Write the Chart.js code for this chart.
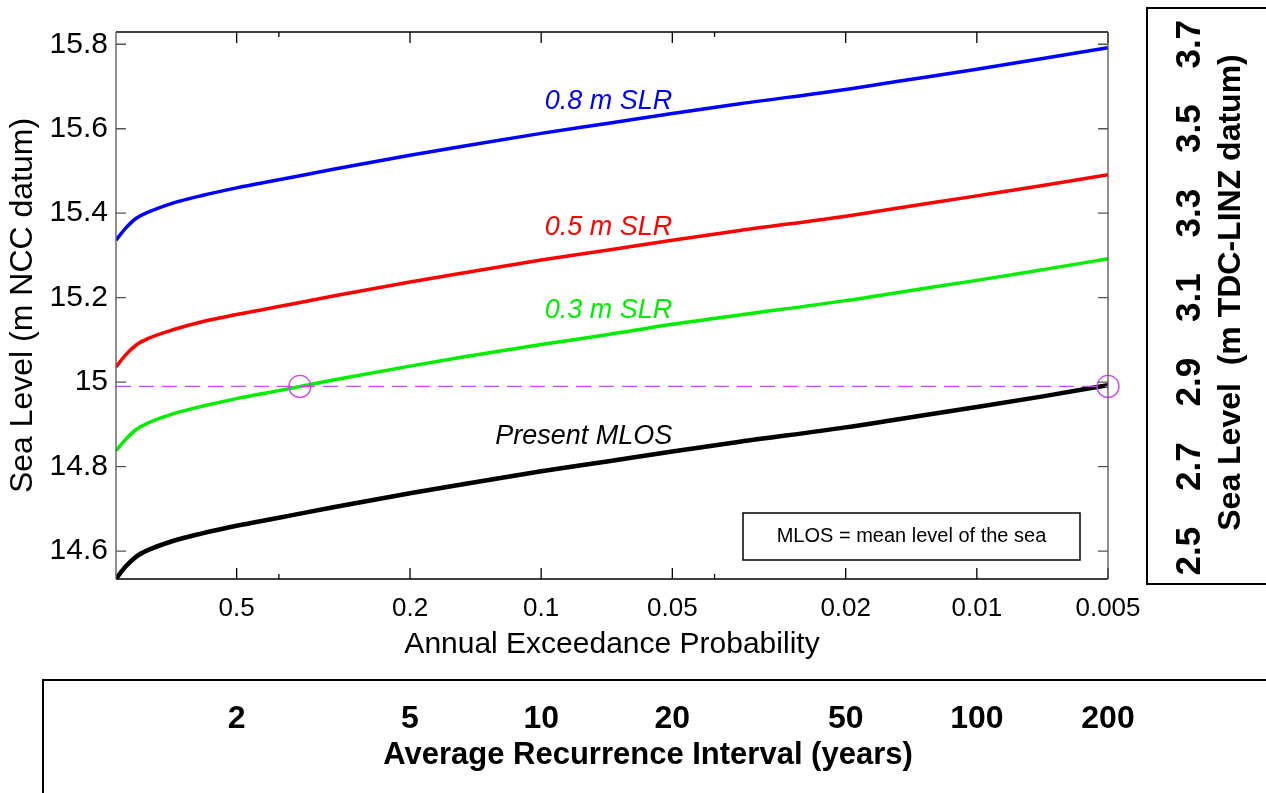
<!DOCTYPE html>
<html>
<head>
<meta charset="utf-8">
<title>Sea level vs annual exceedance probability</title>
<script src="https://cdn.jsdelivr.net/npm/chart.js@4.4.1/dist/chart.umd.min.js"></script>
<style>
  html, body { margin: 0; padding: 0; background: #fff; }
  #wrap { width: 1266px; height: 793px; }
</style>
</head>
<body>
<div id="wrap"><canvas id="chart" width="1266" height="793"></canvas></div>
<script>
// annual exceedance probability (x axis)
const aep = [0.946, 0.9, 0.85, 0.8, 0.7, 0.6, 0.5, 0.4, 0.3, 0.2, 0.15, 0.1, 0.07, 0.05, 0.035, 0.02, 0.015, 0.01, 0.007, 0.005];

// sea level, m NCC datum
const presentMlos = [14.535, 14.563, 14.587, 14.602, 14.624, 14.642, 14.660, 14.679, 14.704, 14.737, 14.759, 14.789, 14.813, 14.836, 14.859, 14.893, 14.913, 14.941, 14.967, 14.993];
const slr03 = [14.838, 14.864, 14.888, 14.903, 14.925, 14.943, 14.961, 14.980, 15.005, 15.038, 15.060, 15.089, 15.113, 15.137, 15.159, 15.193, 15.213, 15.241, 15.267, 15.292];
const slr05 = [15.036, 15.064, 15.088, 15.103, 15.124, 15.143, 15.160, 15.179, 15.204, 15.237, 15.259, 15.289, 15.313, 15.336, 15.359, 15.393, 15.413, 15.441, 15.466, 15.491];
const slr08 = [15.336, 15.364, 15.388, 15.402, 15.424, 15.442, 15.460, 15.479, 15.504, 15.537, 15.559, 15.589, 15.613, 15.636, 15.659, 15.693, 15.713, 15.741, 15.767, 15.792];

// 14.99 m reference level and the two marked crossings
const refLevel = 14.99;
const markAep = [0.358, 0.005];

// tick values and labels
const aepTicks = [0.5, 0.2, 0.1, 0.05, 0.02, 0.01, 0.005];
const aepLabels = ["0.5", "0.2", "0.1", "0.05", "0.02", "0.01", "0.005"];
const aepMinorTicks = [0.4, 0.04];
const ariLabels = ["2", "5", "10", "20", "50", "100", "200"];
const levelTicks = [14.6, 14.8, 15.0, 15.2, 15.4, 15.6, 15.8];
const linzTicks = [2.5, 2.7, 2.9, 3.1, 3.3, 3.5, 3.7];
const datumOffset = 12.1; // NCC -> TDC-LINZ

// curve labels
const curveLabels = ["0.8 m SLR", "0.5 m SLR", "0.3 m SLR", "Present MLOS"];
const curveLabelLevels = [15.647, 15.348, 15.152, 14.853];
const curveColors = ["#0000ff", "#ff0000", "#00ee00", "#000000"];

const FONT = '"Liberation Sans", Arial, Helvetica, sans-serif';
Chart.defaults.font.family = FONT;
Chart.defaults.color = "#000";

const yMin = 14.534;
const yMax = 15.829;
const xMin = 0.005;
const xMax = 0.946;

function series(values) {
  return aep.map((p, i) => ({ x: p, y: values[i] }));
}

const decorations = {
  id: "decorations",
  afterDraw(chart) {
    const { ctx, chartArea: a, scales } = chart;
    const x = scales.x;
    const y = scales.y;

    ctx.save();

    // frame with inward ticks
    ctx.lineWidth = 1.3;
    ctx.strokeStyle = "#000";
    ctx.beginPath();
    ctx.moveTo(a.left, a.top); ctx.lineTo(a.right, a.top);
    ctx.moveTo(a.left, a.bottom); ctx.lineTo(a.right, a.bottom);
    x.ticks.forEach((t) => {
      const px = x.getPixelForValue(t.value);
      ctx.moveTo(px, a.bottom); ctx.lineTo(px, a.bottom - 11);
      ctx.moveTo(px, a.top); ctx.lineTo(px, a.top + 11);
    });
    aepMinorTicks.forEach((v) => {
      const px = x.getPixelForValue(v);
      ctx.moveTo(px, a.bottom); ctx.lineTo(px, a.bottom - 5);
      ctx.moveTo(px, a.top); ctx.lineTo(px, a.top + 5);
    });
    ctx.stroke();

    ctx.strokeStyle = "#555";
    ctx.beginPath();
    ctx.moveTo(a.left, a.top); ctx.lineTo(a.left, a.bottom);
    ctx.moveTo(a.right, a.top); ctx.lineTo(a.right, a.bottom);
    y.ticks.forEach((t) => {
      const py = y.getPixelForValue(t.value);
      ctx.moveTo(a.left, py); ctx.lineTo(a.left + 10, py);
      ctx.moveTo(a.right, py); ctx.lineTo(a.right - 10, py);
    });
    ctx.stroke();

    // curve labels
    ctx.font = "italic 27px " + FONT;
    ctx.textAlign = "right";
    ctx.textBaseline = "alphabetic";
    curveLabels.forEach((txt, i) => {
      ctx.fillStyle = curveColors[i];
      ctx.fillText(txt, x.getPixelForValue(0.05), y.getPixelForValue(curveLabelLevels[i]));
    });

    // note box
    const bw = 337, bh = 47;
    const bx = a.right - 28 - bw;
    const by = a.bottom - 19 - bh;
    ctx.fillStyle = "#fff";
    ctx.fillRect(bx, by, bw, bh);
    ctx.strokeStyle = "#000";
    ctx.lineWidth = 1.5;
    ctx.strokeRect(bx, by, bw, bh);
    ctx.fillStyle = "#000";
    ctx.font = "20px " + FONT;
    ctx.textAlign = "center";
    ctx.textBaseline = "middle";
    ctx.fillText("MLOS = mean level of the sea", bx + bw / 2, by + bh / 2);

    // right-hand datum panel
    ctx.lineWidth = 2;
    ctx.strokeRect(a.right + 39, 8, 300, a.bottom - 3);
    ctx.save();
    ctx.translate(a.right + 123, (a.top + a.bottom) / 2 - 13);
    ctx.rotate(-Math.PI / 2);
    ctx.font = "bold 32px " + FONT;
    ctx.fillText("Sea Level  (m TDC-LINZ datum)", 0, 0);
    ctx.restore();

    // recurrence interval panel
    const x2 = scales.x2;
    ctx.strokeRect(43, x2.top, 1400, 300);
    ctx.font = "bold 31px " + FONT;
    ctx.fillText("Average Recurrence Interval (years)", (a.left + a.right) / 2 + 36, x2.top + 75);

    ctx.restore();
  },
};

new Chart(document.getElementById("chart"), {
  type: "line",
  data: {
    datasets: [
      {
        label: "marks",
        data: markAep.map((p) => ({ x: p, y: refLevel })),
        showLine: false,
        pointStyle: "circle",
        pointRadius: 11,
        pointBorderWidth: 1.3,
        pointBorderColor: "#cc44ff",
        pointBackgroundColor: "rgba(0,0,0,0)",
        clip: false,
      },
      {
        label: "reference",
        data: [{ x: xMax, y: refLevel }, { x: xMin, y: refLevel }],
        borderColor: "#cc44ff",
        borderWidth: 1.4,
        borderDash: [15, 8],
        pointRadius: 0,
      },
      {
        label: "0.8 m SLR",
        data: series(slr08),
        borderColor: "#0000ff",
        borderWidth: 3.5,
        pointRadius: 0,
        cubicInterpolationMode: "monotone",
      },
      {
        label: "0.5 m SLR",
        data: series(slr05),
        borderColor: "#ff0000",
        borderWidth: 3.5,
        pointRadius: 0,
        cubicInterpolationMode: "monotone",
      },
      {
        label: "0.3 m SLR",
        data: series(slr03),
        borderColor: "#00ee00",
        borderWidth: 3.5,
        pointRadius: 0,
        cubicInterpolationMode: "monotone",
      },
      {
        label: "Present MLOS",
        data: series(presentMlos),
        borderColor: "#000000",
        borderWidth: 4.5,
        pointRadius: 0,
        cubicInterpolationMode: "monotone",
      },
    ],
  },
  options: {
    responsive: false,
    animation: false,
    layout: { padding: { top: 32, right: 0, bottom: 0, left: 0 } },
    plugins: {
      legend: { display: false },
      tooltip: { enabled: false },
    },
    scales: {
      x: {
        type: "logarithmic",
        position: "bottom",
        reverse: true,
        min: xMin,
        max: xMax,
        grid: { display: false },
        border: { display: false },
        ticks: {
          font: { size: 26 },
          padding: 6,
          autoSkip: false,
          maxRotation: 0,
          callback: (v) => aepLabels[aepTicks.indexOf(v)] ?? "",
        },
        title: {
          display: true,
          text: "Annual Exceedance Probability",
          font: { size: 30 },
          padding: { top: 0, bottom: 17 },
        },
        afterBuildTicks: (s) => { s.ticks = aepTicks.map((v) => ({ value: v })); },
        afterFit: (s) => { s.height = 101; },
      },
      x2: {
        type: "logarithmic",
        position: "bottom",
        reverse: true,
        min: xMin,
        max: xMax,
        grid: { display: false },
        border: { display: false },
        ticks: {
          font: { size: 32, weight: "bold" },
          padding: 12,
          autoSkip: false,
          maxRotation: 0,
          callback: (v) => ariLabels[aepTicks.indexOf(v)] ?? "",
        },
        afterBuildTicks: (s) => { s.ticks = aepTicks.map((v) => ({ value: v })); },
        afterFit: (s) => { s.height = 113; },
      },
      y: {
        type: "linear",
        position: "left",
        min: yMin,
        max: yMax,
        grid: { display: false },
        border: { display: false },
        ticks: {
          font: { size: 30 },
          padding: 0,
          autoSkip: false,
          callback: (v) => String(+v.toFixed(1)),
        },
        title: {
          display: true,
          text: "Sea Level (m NCC datum)",
          font: { size: 32 },
          padding: { top: 4, bottom: 0 },
        },
        afterBuildTicks: (s) => { s.ticks = levelTicks.map((v) => ({ value: v })); },
        afterFit: (s) => { s.width = 116; },
      },
      y2: {
        type: "linear",
        position: "right",
        min: yMin - datumOffset,
        max: yMax - datumOffset,
        // invisible tick marks push the rotated labels into the side panel
        grid: { display: true, drawOnChartArea: false, tickLength: 50, tickColor: "rgba(0,0,0,0)" },
        border: { display: false },
        ticks: {
          font: { size: 35, weight: "bold" },
          padding: 8,
          minRotation: 90,
          maxRotation: 90,
          crossAlign: "center",
          autoSkip: false,
          callback: (v) => v.toFixed(1),
        },
        afterBuildTicks: (s) => { s.ticks = linzTicks.map((v) => ({ value: v })); },
        afterFit: (s) => { s.width = 158; },
      },
    },
  },
  plugins: [decorations],
});
</script>
</body>
</html>
